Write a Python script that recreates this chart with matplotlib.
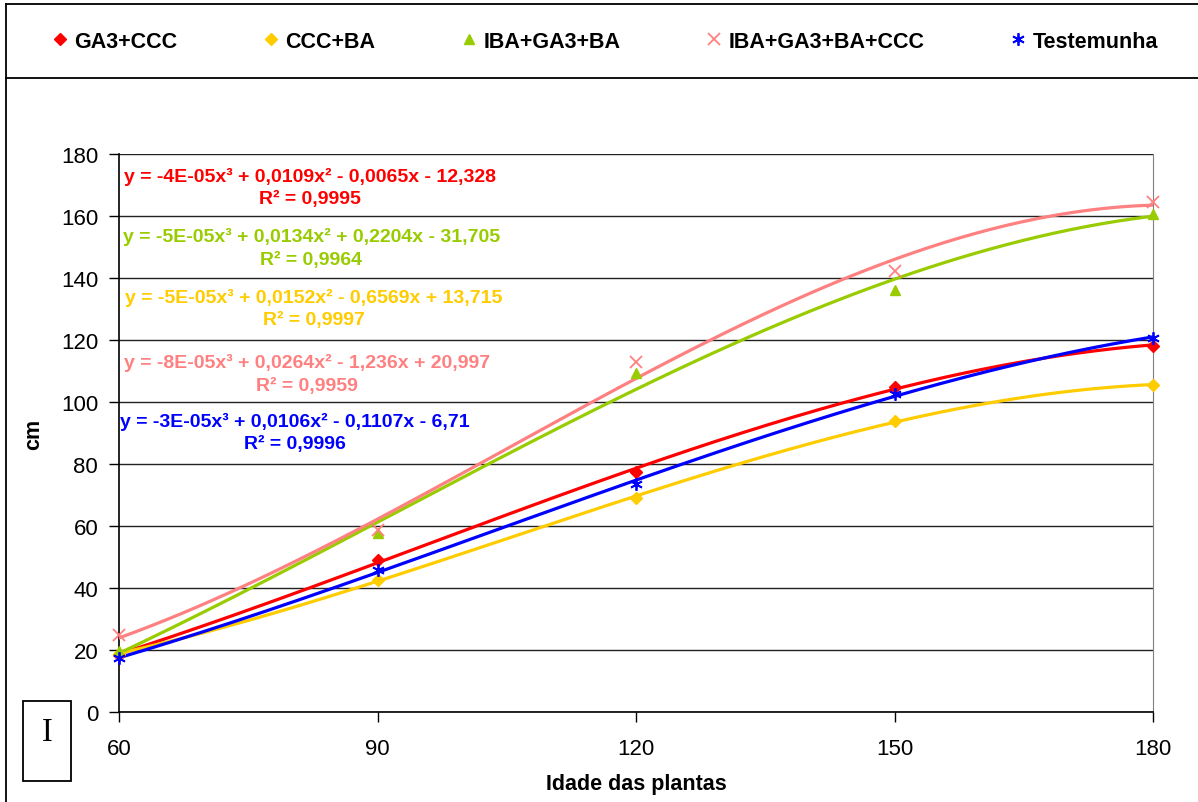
import numpy as np
import matplotlib
matplotlib.use('Agg')
import matplotlib.pyplot as plt
from matplotlib.lines import Line2D
from matplotlib.patches import Rectangle

plt.rcParams['font.family'] = ['Liberation Sans', 'DejaVu Sans']

# data
idade = [60, 90, 120, 150, 180]
ga3_ccc = [18.5, 49.0, 77.3, 105.0, 118.2]
ccc_ba = [18.8, 42.7, 68.9, 94.0, 105.5]
iba_ga3_ba = [19.8, 57.8, 109.2, 136.2, 160.8]
iba_ga3_ba_ccc = [24.8, 58.6, 113.0, 142.4, 164.4]
testemunha = [17.3, 45.8, 73.6, 102.6, 120.8]

nomes = ['GA3+CCC', 'CCC+BA', 'IBA+GA3+BA', 'IBA+GA3+BA+CCC', 'Testemunha']
series = [ga3_ccc, ccc_ba, iba_ga3_ba, iba_ga3_ba_ccc, testemunha]
cores = ['#FF0000', '#FFCC00', '#99CC00', '#FF8080', '#0000FF']
marcadores = ['D', 'D', '^', 'x', (6, 2, 0)]

# trendline labels, same order as series
equacoes = [
    'y = -4E-05x³ + 0,0109x² - 0,0065x - 12,328\nR² = 0,9995',
    'y = -5E-05x³ + 0,0152x² - 0,6569x + 13,715\nR² = 0,9997',
    'y = -5E-05x³ + 0,0134x² + 0,2204x - 31,705\nR² = 0,9964',
    'y = -8E-05x³ + 0,0264x² - 1,236x + 20,997\nR² = 0,9959',
    'y = -3E-05x³ + 0,0106x² - 0,1107x - 6,71\nR² = 0,9996',
]
# label order top to bottom in the chart: red, green, yellow, pink, blue
ordem_eq = [0, 2, 1, 3, 4]
eq_x = [82.2, 82.3, 82.6, 81.8, 80.4]
eq_y = [169.4, 149.9, 130.3, 109.2, 90.3]

W, H = 1198, 803
fig = plt.figure(figsize=(W / 100, H / 100), dpi=100)
ax = fig.add_axes([119 / W, 1 - 713 / H, (1153 - 119) / W, (713 - 155) / H])

xs = np.linspace(60, 180, 200)
for s, c in zip(series, cores):
    coef = np.polyfit(idade, s, 3)
    ax.plot(xs, np.polyval(coef, xs), color=c, lw=2.3, zorder=3)

handles = []
for s, c, m, n in zip(series, cores, marcadores, nomes):
    if m == 'x' or isinstance(m, tuple):
        h = ax.plot(idade, s, ls='none', marker=m, color=c, ms=9, mew=1.3,
                    zorder=4, label=n, clip_on=False)[0]
    elif m == 'D':
        h = ax.plot(idade, s, ls='none', marker=m, color=c, ms=6.5,
                    zorder=4, label=n, clip_on=False)[0]
    else:
        h = ax.plot(idade, s, ls='none', marker=m, color=c, ms=7,
                    zorder=4, label=n, clip_on=False)[0]
    handles.append(h)

for k, i in enumerate(ordem_eq):
    ax.text(eq_x[k], eq_y[k], equacoes[i], color=cores[i], fontsize=14,
            fontweight='bold', ha='center', va='center', linespacing=1.42,
            zorder=5)

ax.set_xlim(60, 180)
ax.set_ylim(0, 180)
ax.set_xticks([60, 90, 120, 150, 180])
ax.set_yticks(np.arange(0, 181, 20))
ax.tick_params(labelsize=16, length=7, width=1)
ax.tick_params(axis='x', pad=12)
ax.tick_params(axis='y', pad=8)
ax.yaxis.grid(True, color='#222222', lw=1)
ax.set_axisbelow(True)
ax.spines['top'].set_visible(False)
ax.spines['right'].set_color('#808080')
ax.spines['left'].set_linewidth(1.2)
ax.spines['bottom'].set_linewidth(1.2)

ax.set_xlabel('Idade das plantas', fontsize=15.5, fontweight='bold', labelpad=10)
ax.set_ylabel('cm', fontsize=15.5, fontweight='bold', labelpad=12)

fig.legend(handles=handles, loc='center', bbox_to_anchor=(0.5056, 1 - 42 / H),
           ncol=5, frameon=False, handlelength=0.6, handletextpad=0.35,
           columnspacing=4.07,
           prop={'weight': 'bold', 'size': 15.5})

# outer frame and legend separator
fig.add_artist(Line2D([5.5 / W, 5.5 / W], [0, 1 - 4.5 / H], color='black', lw=1.3,
                      transform=fig.transFigure))
fig.add_artist(Line2D([5.5 / W, 1], [1 - 4.5 / H, 1 - 4.5 / H], color='black', lw=1.3,
                      transform=fig.transFigure))
fig.add_artist(Line2D([5.5 / W, 1], [1 - 79 / H, 1 - 79 / H], color='black', lw=1.3,
                      transform=fig.transFigure))

# small box with "I"
fig.add_artist(Rectangle((22.7 / W, 1 - 782.3 / H), 48.6 / W, 80.6 / H, fill=False,
                         ec='black', lw=1.3, transform=fig.transFigure))
fig.text(47.7 / W, 1 - 732.5 / H, 'I', fontsize=23.5, family='Liberation Serif',
         ha='center', va='center')

fig.savefig('out.png', dpi=100)
